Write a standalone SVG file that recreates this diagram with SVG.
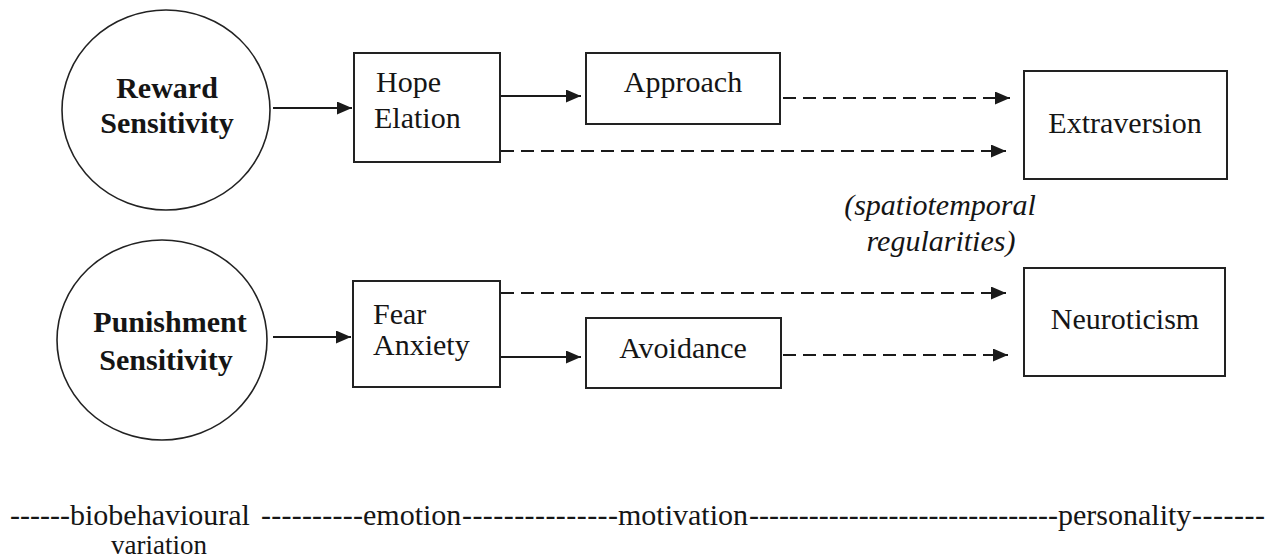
<svg xmlns="http://www.w3.org/2000/svg" width="1272" height="560" viewBox="0 0 1272 560">
<style>
text{font-family:'Liberation Serif','DejaVu Serif',serif;font-size:30px;fill:#151515}
.b{font-weight:bold}
.i{font-style:italic}
.m{text-anchor:middle}
.v{font-size:27px}
.box{fill:#fff;stroke:#222;stroke-width:2}
.circ{fill:#fff;stroke:#222;stroke-width:1.6}
.solid{stroke:#1a1a1a;stroke-width:2;fill:none}
.dash{stroke:#1a1a1a;stroke-width:2.2;fill:none;stroke-dasharray:13 7}
</style>
<defs>
<marker id="ah" markerUnits="userSpaceOnUse" markerWidth="15" markerHeight="13" refX="15" refY="6.5" orient="auto">
<path d="M0,0 L15,6.5 L0,13 z" fill="#1a1a1a"/>
</marker>
</defs>
<rect width="1272" height="560" fill="#fff"/>

<g id="connectors">
<line class="solid" x1="273" y1="108" x2="352" y2="108" marker-end="url(#ah)"/>
<line class="solid" x1="273" y1="337" x2="351" y2="337" marker-end="url(#ah)"/>
<line class="solid" x1="501" y1="96" x2="581" y2="96" marker-end="url(#ah)"/>
<line class="solid" x1="501" y1="357" x2="581" y2="357" marker-end="url(#ah)"/>
<line class="dash" x1="783" y1="98" x2="1010" y2="98" marker-end="url(#ah)"/>
<line class="dash" x1="501" y1="151" x2="1006" y2="151" marker-end="url(#ah)"/>
<line class="dash" x1="501" y1="293" x2="1006" y2="293" marker-end="url(#ah)"/>
<line class="dash" x1="783" y1="355" x2="1008" y2="355" marker-end="url(#ah)"/>
</g>

<g id="reward">
<ellipse class="circ" cx="166" cy="110" rx="104" ry="100"/>
<text class="b m" x="167" y="98">Reward</text>
<text class="b m" x="167" y="133">Sensitivity</text>
</g>

<g id="punishment">
<ellipse class="circ" cx="162" cy="340" rx="105" ry="100"/>
<text class="b m" x="170" y="332">Punishment</text>
<text class="b m" x="166" y="370">Sensitivity</text>
</g>

<g id="hope">
<rect class="box" x="354" y="53" width="146" height="109"/>
<text x="376" y="92">Hope</text>
<text x="374" y="128">Elation</text>
</g>

<g id="fear">
<rect class="box" x="353" y="281" width="147" height="106"/>
<text x="373" y="324">Fear</text>
<text x="373" y="355">Anxiety</text>
</g>

<g id="approach">
<rect class="box" x="586" y="53" width="194" height="71"/>
<text class="m" x="683" y="92">Approach</text>
</g>

<g id="avoidance">
<rect class="box" x="586" y="318" width="195" height="70"/>
<text class="m" x="683" y="358">Avoidance</text>
</g>

<g id="extraversion">
<rect class="box" x="1024" y="71" width="203" height="108"/>
<text class="m" x="1125" y="133">Extraversion</text>
</g>

<g id="neuroticism">
<rect class="box" x="1024" y="268" width="201" height="108"/>
<text class="m" x="1125" y="329">Neuroticism</text>
</g>

<g id="note">
<text class="i m" x="940" y="215">(spatiotemporal</text>
<text class="i m" x="941" y="251">regularities)</text>
</g>

<g id="axis">
<text x="10" y="525" textLength="60" lengthAdjust="spacing">------</text>
<text x="70" y="525">biobehavioural</text>
<text x="261" y="525" textLength="102" lengthAdjust="spacing">----------</text>
<text x="363" y="525">emotion</text>
<text x="462" y="525" textLength="156" lengthAdjust="spacing">---------------</text>
<text x="618" y="525">motivation</text>
<text x="749" y="525" textLength="309" lengthAdjust="spacing">-------------------------------</text>
<text x="1058" y="525">personality</text>
<text x="1192" y="525" textLength="73" lengthAdjust="spacing">-------</text>
<text class="v m" x="159" y="554">variation</text>
</g>
</svg>
